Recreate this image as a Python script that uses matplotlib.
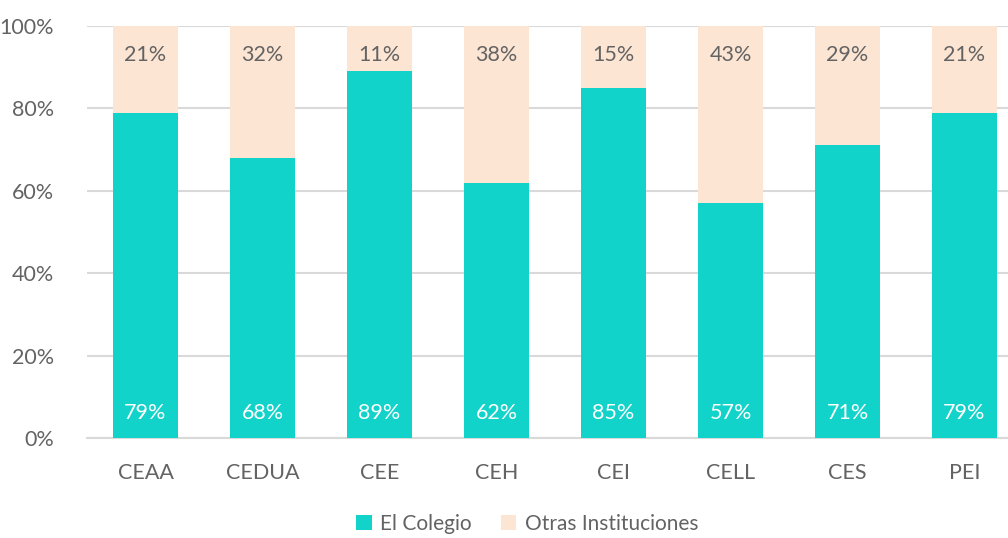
import numpy as np
import matplotlib.pyplot as plt

# data
categories = ["CEAA", "CEDUA", "CEE", "CEH", "CEI", "CELL", "CES", "PEI"]
el_colegio = [79, 68, 89, 62, 85, 57, 71, 79]
otras = [21, 32, 11, 38, 15, 43, 29, 21]

plt.rcParams["font.family"] = ["Lato", "DejaVu Sans"]
plt.rcParams["font.weight"] = "normal"

teal = "#12D3CA"
peach = "#FDE5D3"
grey = "#636363"

fig = plt.figure(figsize=(10.08, 5.38), dpi=100)
ax = fig.add_axes([87 / 1008, 100 / 538, 936 / 1008, 412 / 538])

x = np.arange(len(categories))
w = 0.55
b1 = ax.bar(x, el_colegio, w, color=teal, label="El Colegio", zorder=3)
b2 = ax.bar(x, otras, w, bottom=el_colegio, color=peach, label="Otras Instituciones", zorder=3)

for i in range(len(categories)):
    ax.text(x[i], 6.0, f"{el_colegio[i]}%", ha="center", va="center",
            color="white", fontsize=15.5, zorder=4)
    ax.text(x[i], 93.0, f"{otras[i]}%", ha="center", va="center",
            color=grey, fontsize=15.5, zorder=4)

ax.set_xlim(-0.5, len(categories) - 0.5)
ax.set_ylim(0, 100)
ax.set_yticks(np.arange(0, 101, 20))
ax.set_yticklabels([f"{v}%" for v in range(0, 101, 20)])
ax.set_xticks(x)
ax.set_xticklabels(categories)
ax.tick_params(axis="both", length=0, labelsize=15.5, labelcolor=grey)
ax.tick_params(axis="y", pad=24)
ax.tick_params(axis="x", pad=18)
ax.grid(axis="y", color="#D9D9D9", linewidth=1.5, zorder=0)
for s in ["top", "right", "left"]:
    ax.spines[s].set_visible(False)
ax.spines["bottom"].set_color("#D9D9D9")
ax.spines["bottom"].set_linewidth(1.5)

fig.legend(handles=[b1, b2], loc="center", bbox_to_anchor=(527 / 1008, 1 - 524 / 538),
           ncol=2, frameon=False, fontsize=15, labelcolor=grey,
           handlelength=0.75, handleheight=0.75, handletextpad=0.4, columnspacing=1.4)

fig.savefig("out.png", dpi=100)
